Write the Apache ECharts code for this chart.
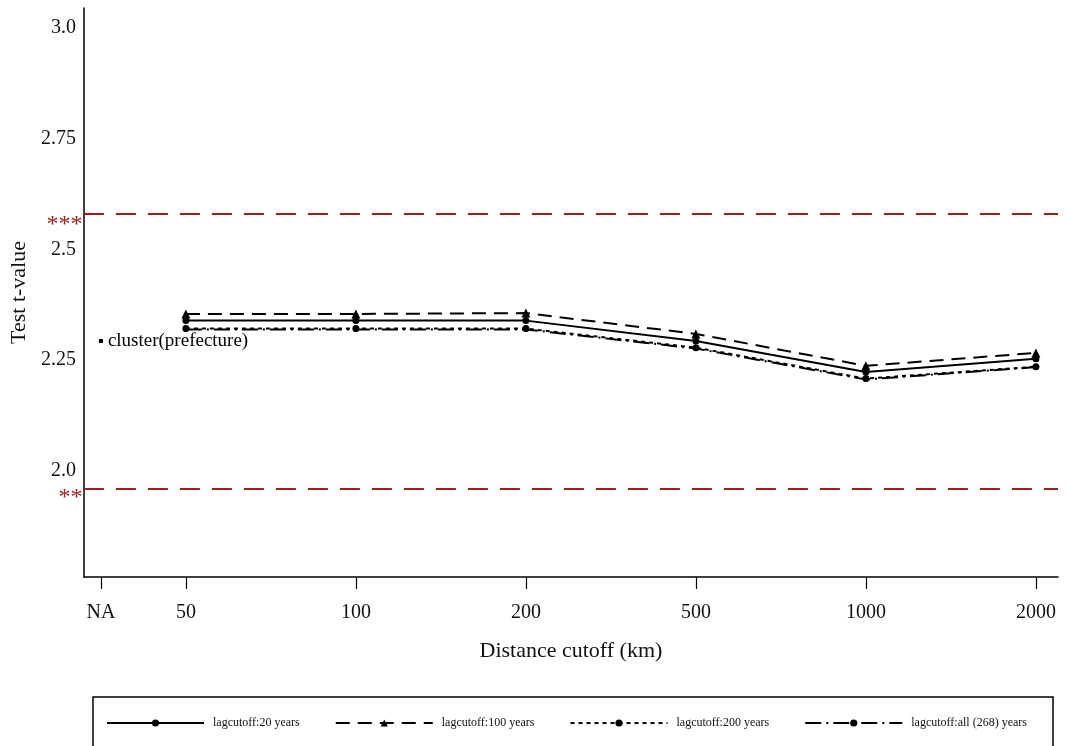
<!DOCTYPE html>
<html>
<head>
<meta charset="utf-8">
<script src="https://cdn.jsdelivr.net/npm/echarts@6/dist/echarts.min.js"></script>
<style>
html,body{margin:0;padding:0;background:#fff;}
#c{width:1067px;height:746px;}
</style>
</head>
<body>
<div id="c"></div>
<script>
// ---- data ----
const xLabels = ['NA', '50', '100', '200', '500', '1000', '2000'];
const xPositions = [-0.5, 0, 1, 2, 3, 4, 5];
const cutoffs = ['50', '100', '200', '500', '1000', '2000'];
const yTickValues = [2.0, 2.25, 2.5, 2.75, 3.0];
const yTickLabels = ['2.0', '2.25', '2.5', '2.75', '3.0'];
const seriesNames = ['lagcutoff:20 years', 'lagcutoff:100 years', 'lagcutoff:200 years', 'lagcutoff:all (268) years'];
const lag20 = [2.339, 2.339, 2.339, 2.293, 2.223, 2.253];
const lag100 = [2.354, 2.354, 2.356, 2.309, 2.237, 2.266];
const lag200 = [2.321, 2.321, 2.321, 2.278, 2.208, 2.235];
const lagAll = [2.319, 2.319, 2.319, 2.276, 2.206, 2.234];
const clusterLabel = 'cluster(prefecture)';
const clusterValue = 2.293;
const critValues = [1.96, 2.576];
const critLabels = ['**', '***'];

const FONT = '"Liberation Serif", "DejaVu Serif", serif';
const X_MIN = -0.6, X_MAX = 5.13;

function pts(arr) {
  return arr.map((v, i) => [xPositions[xLabels.indexOf(cutoffs[i])], v]);
}

const chart = echarts.init(document.getElementById('c'));
const red = '#9e1c1c';

const lineCommon = {
  type: 'line',
  symbolSize: 7,
  itemStyle: { color: '#000' },
  z: 3
};

chart.setOption({
  animation: false,
  backgroundColor: '#fff',
  grid: { left: 82, right: 9, top: 8, bottom: 169 },
  xAxis: {
    type: 'value',
    min: X_MIN,
    max: X_MAX,
    name: 'Distance cutoff (km)',
    nameLocation: 'middle',
    nameGap: 63,
    nameTextStyle: { fontFamily: FONT, fontSize: 22, color: '#111' },
    splitLine: { show: false },
    axisLine: { onZero: false, lineStyle: { color: '#000', width: 1.5 } },
    axisTick: { show: true, length: 12, lineStyle: { color: '#000', width: 1.2 }, customValues: xPositions },
    axisLabel: {
      customValues: xPositions,
      margin: 26,
      fontFamily: FONT, fontSize: 20, color: '#111',
      formatter: v => {
        const i = xPositions.findIndex(p => Math.abs(p - v) < 1e-6);
        return i >= 0 ? xLabels[i] : '';
      }
    }
  },
  yAxis: {
    type: 'value',
    min: 1.76,
    max: 3.045,
    name: 'Test t-value',
    nameLocation: 'middle',
    nameGap: 51,
    nameTextStyle: { fontFamily: FONT, fontSize: 22, color: '#111' },
    splitLine: { show: false },
    axisLine: { show: true, onZero: false, lineStyle: { color: '#000', width: 1.5 } },
    axisTick: { show: false },
    axisLabel: {
      customValues: yTickValues,
      margin: 8,
      fontFamily: FONT, fontSize: 20, color: '#111',
      formatter: v => {
        const i = yTickValues.findIndex(p => Math.abs(p - v) < 1e-6);
        return i >= 0 ? yTickLabels[i] : '';
      }
    }
  },
  legend: {
    left: 101,
    top: 712,
    itemWidth: 97,
    itemHeight: 9,
    itemGap: 35,
    textStyle: { fontFamily: FONT, fontSize: 12, color: '#111', padding: [0, 0, 0, 4] },
    data: seriesNames
  },
  graphic: [{
    type: 'rect',
    shape: { x: 93, y: 697, width: 960, height: 60 },
    style: { fill: 'none', stroke: '#000', lineWidth: 1.5 },
    silent: true
  }],
  series: [
    Object.assign({}, lineCommon, {
      name: seriesNames[0],
      data: pts(lag20),
      symbol: 'circle',
      lineStyle: { color: '#000', width: 2, type: 'solid' }
    }),
    Object.assign({}, lineCommon, {
      name: seriesNames[1],
      data: pts(lag100),
      symbol: 'triangle',
      symbolSize: 9,
      lineStyle: { color: '#000', width: 2, type: [14, 8] }
    }),
    Object.assign({}, lineCommon, {
      name: seriesNames[2],
      data: pts(lag200),
      symbol: 'circle',
      lineStyle: { color: '#000', width: 2, type: [4, 4] }
    }),
    Object.assign({}, lineCommon, {
      name: seriesNames[3],
      data: pts(lagAll),
      symbol: 'circle',
      symbolSize: 5,
      lineStyle: { color: '#000', width: 2, type: [16, 5, 2, 5] },
      markLine: {
        silent: true,
        symbol: 'none',
        lineStyle: { color: red, width: 2, type: [20, 12] },
        label: { show: false },
        data: critValues.map(v => ({ yAxis: v }))
      }
    }),
    {
      type: 'scatter',
      name: 'stars',
      data: critValues.map(v => [X_MIN, v]),
      symbol: 'circle',
      symbolSize: 1,
      clip: false,
      itemStyle: { color: 'rgba(0,0,0,0)', opacity: 1 },
      silent: true,
      label: {
        show: true,
        position: 'left',
        distance: 1,
        offset: [0, 9],
        color: red,
        fontFamily: FONT,
        fontSize: 24,
        formatter: p => critLabels[p.dataIndex]
      }
    },
    {
      type: 'scatter',
      name: 'cluster',
      data: [[xPositions[0], clusterValue]],
      symbol: 'rect',
      symbolSize: 4,
      itemStyle: { color: '#000', opacity: 1 },
      label: {
        show: true,
        position: 'right',
        distance: 5,
        fontFamily: FONT,
        fontSize: 19,
        color: '#000',
        formatter: clusterLabel
      }
    }
  ]
});
</script>
</body>
</html>
